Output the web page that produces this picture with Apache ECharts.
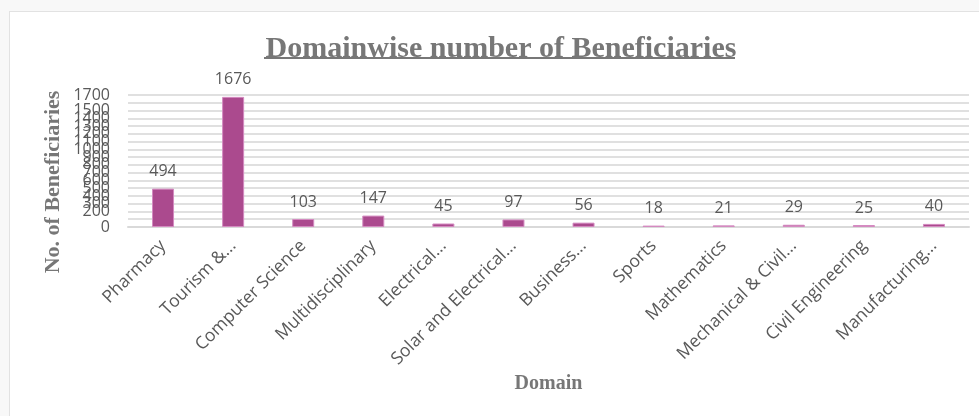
<!DOCTYPE html>
<html>
<head>
<meta charset="utf-8">
<title>Domainwise number of Beneficiaries</title>
<script src="https://cdn.jsdelivr.net/npm/echarts@6/dist/echarts.min.js"></script>
<style>
  html, body { margin: 0; padding: 0; background: #f8f8f8; overflow: hidden; }
  #chart {
    position: absolute;
    left: 9px;
    top: 11px;
    width: 970px;
    height: 405px;
    background: #fff;
    border-left: 1px solid #e2e2e2;
    border-top: 1px solid #e2e2e2;
  }
</style>
</head>
<body>
<div id="chart"></div>
<script>
// data
var domains = ["Pharmacy", "Tourism &...", "Computer Science", "Multidisciplinary",
  "Electrical...", "Solar and Electrical...", "Business...", "Sports", "Mathematics",
  "Mechanical & Civil...", "Civil Engineering", "Manufacturing..."];
var beneficiaries = [494, 1676, 103, 147, 45, 97, 56, 18, 21, 29, 25, 40];
var yMin = 0;
var yMax = 1700;
var yStep = 100;

var grey = "#595959";
var titleGrey = "#777777";

var chart = echarts.init(document.getElementById("chart"));
chart.setOption({
  animation: false,
  title: {
    text: "Domainwise number of Beneficiaries",
    left: 486,
    textAlign: "center",
    top: 17,
    textStyle: {
      fontFamily: "Liberation Serif",
      fontWeight: "bold",
      fontSize: 30,
      color: titleGrey
    }
  },
  graphic: [
    {
      // title underline
      type: "line",
      shape: { x1: 254, y1: 46, x2: 725, y2: 46 },
      style: { stroke: titleGrey, lineWidth: 2 }
    },
    {
      type: "text",
      x: 43,
      y: 170,
      rotation: Math.PI / 2,
      style: {
        text: "No. of Beneficiaries",
        fontFamily: "Liberation Serif",
        fontWeight: "bold",
        fontSize: 22,
        fill: titleGrey,
        align: "center",
        verticalAlign: "middle"
      }
    }
  ],
  grid: {
    left: 118,
    right: 11,
    top: 83,
    bottom: 190
  },
  xAxis: {
    type: "category",
    data: domains,
    name: "Domain",
    nameLocation: "middle",
    nameGap: 147,
    nameTextStyle: {
      fontFamily: "Liberation Serif",
      fontWeight: "bold",
      fontSize: 20,
      color: titleGrey
    },
    axisLine: { lineStyle: { color: "#d9d9d9", width: 2 } },
    axisTick: { show: false },
    axisLabel: {
      interval: 0,
      rotate: 45,
      margin: 16,
      fontFamily: "Open Sans",
      fontSize: 17.5,
      color: grey
    }
  },
  yAxis: {
    type: "value",
    min: yMin,
    max: yMax,
    interval: yStep,
    axisLine: { show: false },
    axisTick: { show: false },
    axisLabel: {
      margin: 18,
      showMinLabel: true,
      showMaxLabel: true,
      hideOverlap: false,
      formatter: function (v) { return String(v); },
      fontFamily: "Open Sans",
      fontSize: 16,
      color: grey
    },
    splitLine: { lineStyle: { color: "#e0e0e0", width: 2 } }
  },
  series: [
    {
      type: "bar",
      data: beneficiaries,
      barWidth: 22,
      itemStyle: {
        color: "#ab4a8e",
        borderColor: "#d48ac0",
        borderWidth: 1
      },
      label: {
        show: true,
        position: "top",
        distance: 9,
        fontFamily: "Open Sans",
        fontSize: 16,
        color: grey
      }
    }
  ]
});
</script>
</body>
</html>
